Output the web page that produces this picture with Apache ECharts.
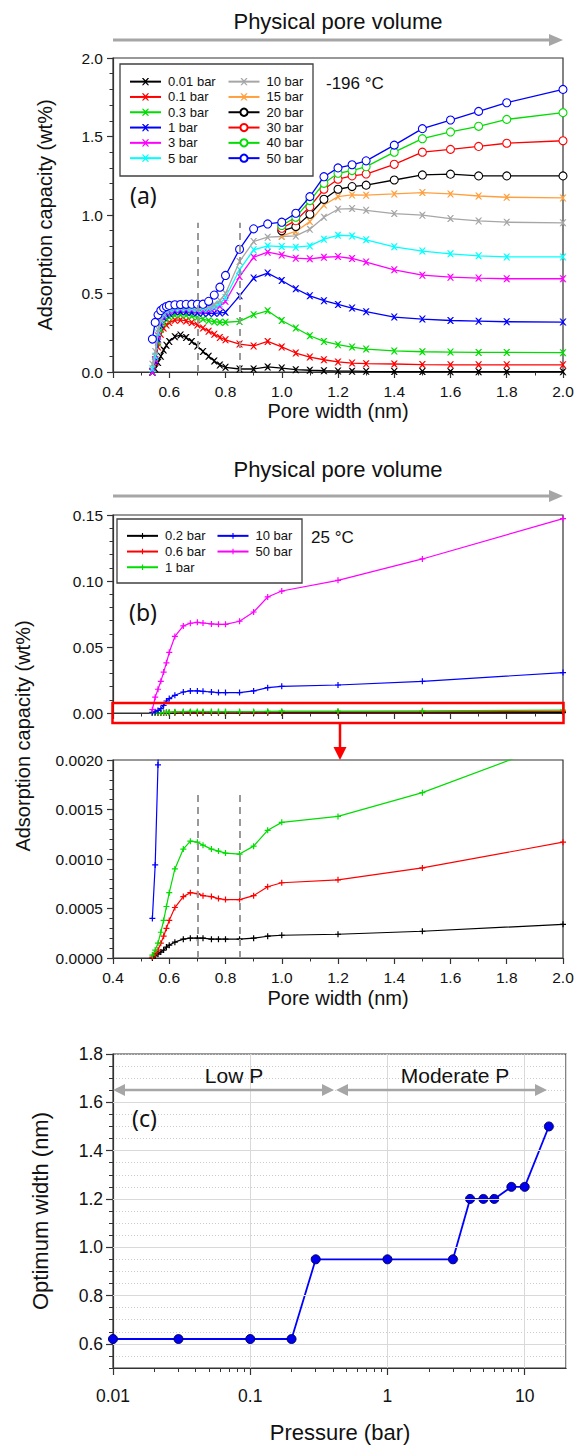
<!DOCTYPE html>
<html>
<head>
<meta charset="utf-8">
<script src="https://cdn.jsdelivr.net/npm/echarts@6.0.0/dist/echarts.min.js"></script>
<style>
html,body{margin:0;padding:0;background:#ffffff;}
#chart{width:579px;height:1446px;}
</style>
</head>
<body>
<div id="chart"></div>
<script>
// ================= DATA =================
// Panel (a): -196 °C, adsorption capacity (wt%) vs pore width (nm)
const A_WIDTH = [0.54,0.55,0.56,0.57,0.58,0.59,0.60,0.62,0.64,0.66,0.68,0.70,0.72,0.74,0.76,0.78,0.80,0.85,0.90,0.95,1.0,1.05,1.1,1.15,1.2,1.25,1.3,1.4,1.5,1.6,1.7,1.8,2.0];
const A_WIDTH_HI = [1.0,1.05,1.1,1.15,1.2,1.25,1.3,1.4,1.5,1.6,1.7,1.8,2.0];
const A_NAMES = ['0.01 bar','0.1 bar','0.3 bar','1 bar','3 bar','5 bar','10 bar','15 bar','20 bar','30 bar','40 bar','50 bar'];
const A_P0_01 = [0.0,0.02,0.06,0.10,0.14,0.17,0.195,0.225,0.235,0.22,0.195,0.165,0.13,0.10,0.07,0.045,0.03,0.019,0.019,0.032,0.025,0.015,0.011,0.008,0.006,0.005,0.004,0.003,0.003,0.002,0.002,0.002,0.002];
const A_P0_1 = [0.0,0.06,0.16,0.24,0.28,0.30,0.315,0.33,0.332,0.325,0.315,0.30,0.28,0.26,0.24,0.22,0.205,0.178,0.166,0.195,0.16,0.121,0.095,0.078,0.064,0.057,0.053,0.051,0.047,0.046,0.046,0.046,0.046];
const A_P0_3 = [0.0,0.08,0.19,0.27,0.31,0.335,0.35,0.362,0.365,0.362,0.356,0.348,0.337,0.327,0.32,0.317,0.317,0.322,0.365,0.39,0.328,0.28,0.231,0.195,0.174,0.159,0.146,0.134,0.129,0.127,0.125,0.125,0.123];
const A_P1 = [0.0,0.07,0.21,0.30,0.345,0.365,0.375,0.383,0.385,0.383,0.38,0.377,0.375,0.374,0.374,0.376,0.38,0.485,0.598,0.63,0.583,0.53,0.485,0.454,0.43,0.407,0.384,0.35,0.337,0.328,0.324,0.32,0.318];
const A_P3 = [0.0,0.08,0.23,0.32,0.36,0.38,0.39,0.397,0.40,0.40,0.398,0.396,0.395,0.397,0.405,0.42,0.45,0.608,0.731,0.763,0.746,0.725,0.721,0.731,0.735,0.723,0.70,0.651,0.617,0.604,0.598,0.594,0.594];
const A_P5 = [0.02,0.10,0.25,0.33,0.37,0.39,0.40,0.405,0.408,0.408,0.406,0.405,0.405,0.408,0.415,0.435,0.475,0.651,0.778,0.803,0.799,0.795,0.803,0.846,0.871,0.867,0.842,0.797,0.77,0.753,0.74,0.733,0.733];
const A_P10 = [0.05,0.13,0.27,0.34,0.38,0.40,0.41,0.415,0.418,0.418,0.417,0.416,0.417,0.42,0.43,0.455,0.50,0.704,0.831,0.859,0.863,0.867,0.91,0.986,1.037,1.041,1.03,1.009,0.999,0.977,0.962,0.954,0.95];
const A_P15 = [0.867,0.895,0.958,1.064,1.117,1.128,1.126,1.134,1.143,1.134,1.121,1.113,1.109];
const A_P20 = [0.899,0.926,1.005,1.10,1.164,1.181,1.19,1.223,1.255,1.26,1.249,1.249,1.249];
const A_P30 = [0.916,0.964,1.053,1.164,1.228,1.249,1.261,1.323,1.40,1.418,1.437,1.457,1.473];
const A_P40 = [0.933,0.986,1.092,1.202,1.266,1.283,1.308,1.40,1.486,1.529,1.565,1.609,1.652];
const A_P50 = [0.21,0.316,0.364,0.392,0.407,0.417,0.424,0.428,0.43,0.431,0.432,0.432,0.432,0.45,0.49,0.54,0.615,0.782,0.912,0.943,0.954,1.011,1.117,1.244,1.30,1.32,1.345,1.445,1.55,1.605,1.66,1.715,1.80];
const A_DASH_X = [0.7, 0.85];
const A_DASH_TOP = 0.95;

// Panel (b): 25 °C
const B_WIDTH = [0.54,0.55,0.56,0.57,0.58,0.59,0.60,0.62,0.65,0.675,0.70,0.72,0.75,0.775,0.80,0.85,0.90,0.95,1.0,1.2,1.5,2.0];
const B_NAMES = ['0.2 bar','0.6 bar','1 bar','10 bar','50 bar'];
const B_P0_2 = [0,0.00002,0.00004,0.00006,0.00008,0.00011,0.00013,0.00016,0.00019,0.0002,0.0002,0.0002,0.00019,0.00019,0.00019,0.00019,0.0002,0.00022,0.00023,0.00024,0.00027,0.00034];
const B_P0_6 = [0.00001,0.00004,0.00008,0.00015,0.00022,0.0003,0.00038,0.00051,0.00062,0.00066,0.00065,0.00063,0.00062,0.0006,0.00059,0.00059,0.00063,0.00072,0.00076,0.00079,0.00091,0.00117];
const B_P1 = [0.00003,0.00008,0.00015,0.00026,0.00038,0.00052,0.00066,0.0009,0.0011,0.00118,0.00117,0.00114,0.0011,0.00108,0.00106,0.00105,0.00113,0.00129,0.00137,0.00143,0.00167,0.0022];
const B_P10 = [0.0004,0.00094,0.00195,0.0033,0.0058,0.0091,0.0109,0.0134,0.0159,0.0167,0.0167,0.0164,0.0159,0.0155,0.0155,0.0155,0.0167,0.0192,0.0202,0.0212,0.024,0.0306];
const B_P50 = [0.0025,0.012,0.018,0.024,0.031,0.038,0.046,0.058,0.066,0.068,0.0687,0.0682,0.0675,0.0672,0.0672,0.0695,0.0765,0.0879,0.0924,0.1005,0.1167,0.1473];
const B_DASH_X = [0.7, 0.85];
const B_DASH_TOP = 0.00166;

// Panel (c): optimum width vs pressure
const C_PRESSURE = [0.01,0.03,0.1,0.2,0.3,1,3,4,5,6,8,10,15];
const C_WIDTH = [0.62,0.62,0.62,0.62,0.95,0.95,0.95,1.2,1.2,1.2,1.25,1.25,1.5];
const C_Y_TICKS = [0.6,0.8,1.0,1.2,1.4,1.6,1.8];
const C_X_MINOR_TICKS = [0.02,0.03,0.04,0.05,0.06,0.07,0.08,0.09,0.2,0.3,0.4,0.5,0.6,0.7,0.8,0.9,2,3,4,5,6,7,8,9];

// ================= STYLE =================
const FONT = "'Liberation Sans', Arial, sans-serif";
const FONT2 = "'Noto Sans', 'Liberation Sans', sans-serif";
const AX = '#333333';
const SYM_X = 'path://M0,0L2,0L5,3L8,0L10,0L6,5L10,10L8,10L5,7L2,10L0,10L4,5Z';
const SYM_PLUS = 'path://M4,0H6V4H10V6H6V10H4V6H0V4H4Z';
const A_COLORS = ['#000000','#ff0000','#00dd00','#0000ff','#ff00ff','#00ffff','#a6a6a6','#ffa040','#000000','#ff0000','#00dd00','#0000ff'];
const B_COLORS = ['#000000','#ff0000','#00dd00','#0000ff','#ff00ff'];

const GA = {left:113, top:58, width:450, height:314};
const GB1 = {left:113, top:515, width:450, height:198};
const GB2 = {left:113, top:760, width:450, height:198};
const GC = {left:113, top:1054, width:453, height:314};

function pairs(xs, ys){ return xs.map((x,i)=>[x, ys[i]]); }

const series = [];
// panel (a)
const A_VALUES = [A_P0_01,A_P0_1,A_P0_3,A_P1,A_P3,A_P5,A_P10,A_P15,A_P20,A_P30,A_P40,A_P50];
A_VALUES.forEach((vals, i) => {
  const hi = (i >= 7 && i <= 10);
  const circle = i >= 8;
  const s = {
    type:'line', name:A_NAMES[i], xAxisIndex:0, yAxisIndex:0,
    data: pairs(hi ? A_WIDTH_HI : A_WIDTH, vals),
    symbol: circle ? 'circle' : SYM_X,
    symbolSize: circle ? 8 : 7,
    lineStyle:{color:A_COLORS[i], width:1.3},
    itemStyle: circle ? {color:'#ffffff', borderColor:A_COLORS[i], borderWidth:1.1} : {color:A_COLORS[i]},
    emphasis:{disabled:true}, silent:true, z: 2 + i*0.01
  };
  if (i === 0) {
    s.markLine = {silent:true, symbol:['none','none'], label:{show:false},
      lineStyle:{color:'#999999', type:[7,5], width:2},
      data: A_DASH_X.map(x => [{coord:[x,0]},{coord:[x,A_DASH_TOP]}])};
  }
  series.push(s);
});
// panel (b) upper & lower
const B_VALUES = [B_P0_2,B_P0_6,B_P1,B_P10,B_P50];
[1,2].forEach(ax => {
  B_VALUES.forEach((vals, i) => {
    const s = {
      type:'line', name:B_NAMES[i] + ' (25)', xAxisIndex:ax, yAxisIndex:ax,
      data: pairs(B_WIDTH, vals), symbol:SYM_PLUS, symbolSize:6,
      lineStyle:{color:B_COLORS[i], width:1.2}, itemStyle:{color:B_COLORS[i]},
      emphasis:{disabled:true}, silent:true, clip:true
    };
    if (ax === 2 && i === 0) {
      s.markLine = {silent:true, symbol:['none','none'], label:{show:false},
        lineStyle:{color:'#999999', type:[7,5], width:2},
        data: B_DASH_X.map(x => [{coord:[x,0]},{coord:[x,B_DASH_TOP]}])};
    }
    series.push(s);
  });
});
// panel (c) grid lines + data
series.push({type:'line', name:'grid', xAxisIndex:3, yAxisIndex:3, data:[], z:1, silent:true,
  markLine:{silent:true, symbol:['none','none'], label:{show:false},
    lineStyle:{color:'#d9d9d9', type:'solid', width:1},
    data: C_Y_TICKS.filter(v => v < 1.8).map(v => ({yAxis:v}))}});
series.push({type:'line', name:'Optimum width', xAxisIndex:3, yAxisIndex:3, z:3,
  data: pairs(C_PRESSURE, C_WIDTH), symbol:'circle', symbolSize:9,
  lineStyle:{color:'#0000ff', width:1.8},
  itemStyle:{color:'#0000ee', borderColor:'#000066', borderWidth:1},
  emphasis:{disabled:true}, silent:true});

function xWidthAxis(gi, showLabel){
  return {type:'value', gridIndex:gi, min:0.4, max:2.0, interval:0.2,
    axisLine:{show:true, onZero:false, lineStyle:{color:AX, width:1.2}},
    axisTick:{show:true, length:6, lineStyle:{color:AX, width:1.2}},
    minorTick:{show:true, splitNumber:2, length:3.5, lineStyle:{color:AX, width:1}},
    splitLine:{show:false},
    axisLabel:{show:showLabel, fontSize:15.5, color:'#111', fontFamily:FONT, margin:11, formatter:v=>v.toFixed(1)}};
}
function yValAxis(gi, min, max, interval, digits){
  return {type:'value', gridIndex:gi, min:min, max:max, interval:interval,
    axisLine:{show:true, onZero:false, lineStyle:{color:AX, width:1.2}},
    axisTick:{show:true, length:6, lineStyle:{color:AX, width:1.2}},
    minorTick:{show:true, splitNumber:5, length:3.5, lineStyle:{color:AX, width:1}},
    splitLine:{show:false},
    axisLabel:{fontSize:15.5, color:'#111', fontFamily:FONT, margin:10, formatter:v=>v.toFixed(digits)}};
}

const xAxis = [
  xWidthAxis(0, true), xWidthAxis(1, false), xWidthAxis(2, true),
  {type:'log', logBase:10, gridIndex:3, min:0.01, max:20, position:'bottom',
    axisLine:{show:true, onZero:false, lineStyle:{color:AX, width:1.2}},
    axisTick:{show:true, length:7, lineStyle:{color:AX, width:1.2}},
    splitLine:{show:true, lineStyle:{color:'#d9d9d9', width:1}},
    axisLabel:{fontSize:17.5, color:'#111', fontFamily:FONT, margin:19, showMaxLabel:false,
      formatter:v => String(+(+v).toPrecision(6))}},
  {type:'log', logBase:10, gridIndex:3, min:0.01, max:20, position:'bottom',
    axisLine:{show:false}, splitLine:{show:false}, axisLabel:{show:false},
    axisTick:{show:true, length:4, customValues:C_X_MINOR_TICKS, lineStyle:{color:AX, width:1}}}
];
const yAxis = [
  yValAxis(0, 0, 2.0, 0.5, 1),
  yValAxis(1, 0, 0.15, 0.05, 2),
  yValAxis(2, 0, 0.002, 0.0005, 4),
  {type:'value', gridIndex:3, min:0.5, max:1.8, interval:0.05, position:'left',
    axisLine:{show:true, onZero:false, lineStyle:{color:AX, width:1.2}},
    axisTick:{show:true, length:4, lineStyle:{color:AX, width:1}},
    axisLabel:{show:false},
    splitLine:{show:true, lineStyle:{color:'#cccccc', type:[1,2], width:1}}},
  {type:'value', gridIndex:3, min:0.5, max:1.8, position:'left',
    axisLine:{show:false}, splitLine:{show:false},
    axisTick:{show:true, length:7, customValues:C_Y_TICKS, lineStyle:{color:AX, width:1.2}},
    axisLabel:{customValues:C_Y_TICKS, fontSize:17.5, color:'#111', fontFamily:FONT, margin:10, formatter:v=>(+v).toFixed(1)}}
];

function gridOf(g){ return Object.assign({show:true, borderColor:AX, borderWidth:1.2, backgroundColor:'rgba(0,0,0,0)'}, g); }

function legendOf(names, left, top, itemH, lh, fmt){
  return {data:names, left:left, top:top, orient:'vertical', padding:0, itemGap:0,
    itemWidth:31, itemHeight:itemH, selectedMode:false,
    textStyle:{fontSize:13, lineHeight:lh, color:'#111', fontFamily:FONT, padding:[0,0,0,2]},
    formatter: fmt || (n => n)};
}
const stripB = n => n.replace(' (25)','');

function txt(text, x, y, size, opts){
  opts = opts || {};
  return {type:'text', x:x, y:y, rotation:opts.rot || 0, z:100,
    style:{text:text, fontSize:size, fontFamily:opts.font || FONT, fill:'#111',
      textAlign:opts.align || 'center', textVerticalAlign:'middle',
      align:opts.align || 'center', verticalAlign:'middle'}};
}
function arrowRight(x1, x2, y, color){
  return [
    {type:'line', z:100, shape:{x1:x1, y1:y, x2:x2-12, y2:y}, style:{stroke:color, lineWidth:3}},
    {type:'polygon', z:100, shape:{points:[[x2-14,y-6],[x2,y],[x2-14,y+6]]}, style:{fill:color}}
  ];
}
function arrowBoth(x1, x2, y, color){
  return [
    {type:'line', z:100, shape:{x1:x1+10, y1:y, x2:x2-10, y2:y}, style:{stroke:color, lineWidth:2.5}},
    {type:'polygon', z:100, shape:{points:[[x1+12,y-6],[x1,y],[x1+12,y+6]]}, style:{fill:color}},
    {type:'polygon', z:100, shape:{points:[[x2-12,y-6],[x2,y],[x2-12,y+6]]}, style:{fill:color}}
  ];
}

const GRAY = '#a6a6a6';
const graphic = [].concat(
  [txt('Physical pore volume', 338, 21, 22)],
  arrowRight(113, 563, 40, GRAY),
  [txt('Physical pore volume', 338, 469, 22)],
  arrowRight(113, 563, 496, GRAY),
  [
    txt('-196 °C', 326, 83, 17, {align:'left'}),
    txt('(a)', 130, 195, 23, {align:'left', font:FONT2}),
    txt('25 °C', 311, 537, 17, {align:'left'}),
    txt('(b)', 129, 612, 23, {align:'left', font:FONT2}),
    txt('(c)', 132, 1118, 23, {align:'left', font:FONT2}),
    txt('Adsorption capacity (wt%)', 45, 215, 20, {rot:Math.PI/2}),
    txt('Adsorption capacity (wt%)', 23, 736, 20, {rot:Math.PI/2}),
    txt('Optimum width (nm)', 40, 1211, 22, {rot:Math.PI/2}),
    txt('Pore width (nm)', 338, 411, 20),
    txt('Pore width (nm)', 338, 998, 20),
    txt('Pressure (bar)', 340, 1432, 22),
    txt('Low P', 234, 1075, 21),
    txt('Moderate P', 455, 1075, 21),
    {type:'rect', z:90, shape:{x:120, y:64, width:193, height:112}, style:{fill:'#fff', stroke:'#404040', lineWidth:1.3}},
    {type:'rect', z:90, shape:{x:117, y:519, width:185, height:64}, style:{fill:'#fff', stroke:'#404040', lineWidth:1.3}},
    {type:'rect', z:100, shape:{x:112.5, y:703, width:451, height:20}, style:{fill:'none', stroke:'#ff0000', lineWidth:2.5}},
    {type:'line', z:100, shape:{x1:340, y1:723, x2:340, y2:749}, style:{stroke:'#ff0000', lineWidth:2.5}},
    {type:'polygon', z:100, shape:{points:[[333.5,747],[346.5,747],[340,760]]}, style:{fill:'#ff0000'}}
  ],
  arrowBoth(113, 334, 1090, GRAY),
  arrowBoth(336, 547, 1090, GRAY)
);

const option = {
  animation:false,
  backgroundColor:'#ffffff',
  textStyle:{fontFamily:FONT},
  grid:[gridOf(GA), gridOf(GB1), gridOf(GB2), gridOf(GC)],
  xAxis:xAxis,
  yAxis:yAxis,
  legend:[
    Object.assign(legendOf(A_NAMES.slice(0,6), 129, 74, 9, 15.3), {z:95}),
    Object.assign(legendOf(A_NAMES.slice(6), 227.5, 74, 9, 15.3), {z:95}),
    Object.assign(legendOf(B_NAMES.slice(0,3).map(n=>n+' (25)'), 126, 528, 7, 15.7, stripB), {z:95}),
    Object.assign(legendOf(B_NAMES.slice(3).map(n=>n+' (25)'), 216.5, 528, 7, 15.7, stripB), {z:95})
  ],
  series:series,
  graphic:{elements:graphic}
};

const chart = echarts.init(document.getElementById('chart'), null, {renderer:'svg', width:579, height:1446});
chart.setOption(option);
</script>
</body>
</html>
